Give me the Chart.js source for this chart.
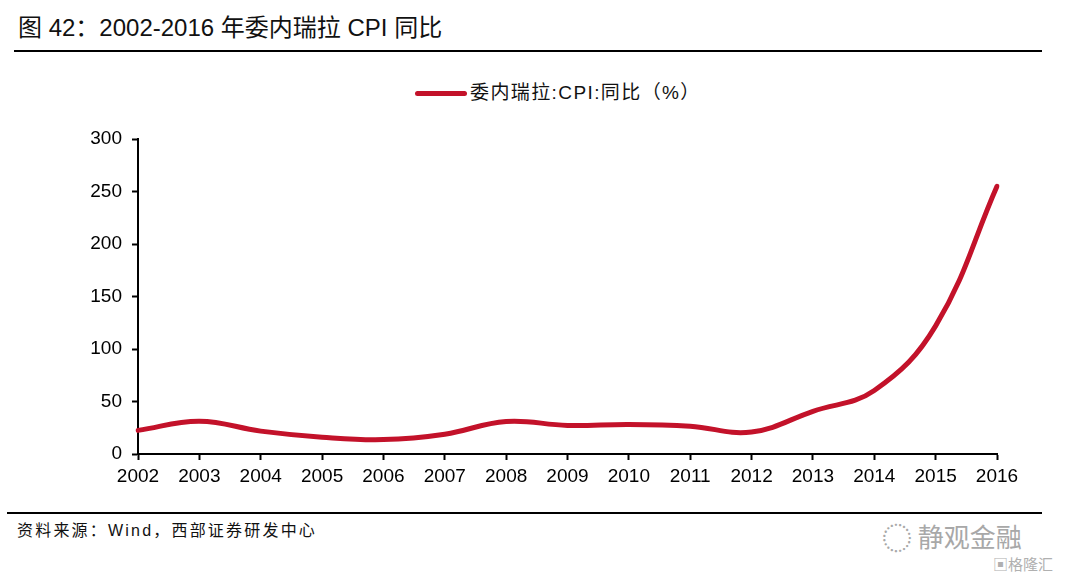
<!DOCTYPE html>
<html><head><meta charset="utf-8">
<script src="https://cdn.jsdelivr.net/npm/chart.js@4"></script>
<style>
html,body{margin:0;padding:0;background:#fff;width:1069px;height:584px;overflow:hidden;font-family:"Liberation Sans","Noto Sans CJK SC",sans-serif;}
#title{position:absolute;left:18px;top:13px;font-size:24px;line-height:30px;color:#111;font-family:"Liberation Sans","Noto Sans CJK SC";}
#rule1{position:absolute;left:14px;top:50px;width:1028px;height:2px;background:#000;}
#rule2{position:absolute;left:7px;top:512px;width:1035px;height:2px;background:#000;}
#src{position:absolute;left:17px;top:520px;font-size:16px;line-height:22px;letter-spacing:2.2px;color:#111;font-family:"Liberation Sans","Noto Sans CJK SC";}
#legend{position:absolute;left:415px;top:81px;font-size:19px;line-height:24px;letter-spacing:1.4px;color:#111;font-family:"Liberation Sans","Noto Sans CJK SC";white-space:nowrap;}
#legend span.sw{display:inline-block;width:52px;height:5px;background:#C3122A;vertical-align:middle;margin-right:3px;border-radius:3px;}
#wm{position:absolute;left:882px;top:519px;font-size:26px;line-height:34px;color:#a8a8a8;font-family:"Noto Sans CJK SC";white-space:nowrap;}
#wm2{position:absolute;left:993px;top:554px;font-size:15px;line-height:20px;color:#b0b0b0;font-family:"Noto Sans CJK SC";white-space:nowrap;}
#wrap{position:absolute;left:0;top:60px;width:1069px;height:440px;}
</style></head><body>
<div id="title">图 42：2002-2016 年委内瑞拉 CPI 同比</div>
<div id="rule1"></div>
<div id="legend"><span class="sw"></span>委内瑞拉:CPI:同比（%）</div>
<div id="wrap"><canvas id="c"></canvas></div>
<div id="rule2"></div>
<div id="src">资料来源：Wind，西部证券研发中心</div>
<div id="wm"><span style="font-size:30px;vertical-align:-2px;">◌</span> 静观金融</div>
<div id="wm2">▣格隆汇</div>
<script>
const categories = ["2002","2003","2004","2005","2006","2007","2008","2009","2010","2011","2012","2013","2014","2015","2016"];
const cpiYoY = [22.5, 31.2, 21.8, 16.0, 13.7, 18.9, 31.0, 27.2, 28.2, 26.5, 21.0, 40.7, 60.5, 122.0, 255.0];
const yTicks = [0, 50, 100, 150, 200, 250, 300];
const seriesName = "委内瑞拉:CPI:同比（%）";

const cv = document.getElementById('c');
cv.width = 1069; cv.height = 440;
cv.style.width = '1069px'; cv.style.height = '440px';
new Chart(cv, {
  type: 'line',
  data: { labels: categories, datasets: [{
    label: seriesName, data: cpiYoY, borderColor: '#C3122A', borderWidth: 5,
    pointRadius: 0, tension: 0.4, fill: false, borderCapStyle: 'round'
  }]},
  options: {
    responsive: false, animation: false, devicePixelRatio: 1,
    layout: { padding: { left: 0, right: 72, top: 79, bottom: 0 } },
    plugins: { legend: { display: false }, tooltip: { enabled: false } },
    scales: {
      x: {
        offset: false,
        grid: { drawOnChartArea: false, drawTicks: true, tickLength: 6, tickColor: '#000', tickWidth: 2 },
        border: { display: true, color: '#000', width: 2 },
        ticks: { color: '#000', font: { family: 'Liberation Sans', size: 19 }, padding: 5, maxRotation: 0, autoSkip: false },
        afterFit: s => { s.height = 46; }
      },
      y: {
        min: 0, max: 300,
        afterBuildTicks: s => { s.ticks = yTicks.map(v => ({ value: v })); },
        grid: { drawOnChartArea: false, drawTicks: true, tickLength: 6, tickColor: '#000', tickWidth: 2 },
        border: { display: true, color: '#000', width: 2 },
        ticks: { color: '#000', font: { family: 'Liberation Sans', size: 19 }, padding: 10 },
        afterFit: s => { s.width = 138; }
      }
    }
  }
});
</script>
</body></html>
